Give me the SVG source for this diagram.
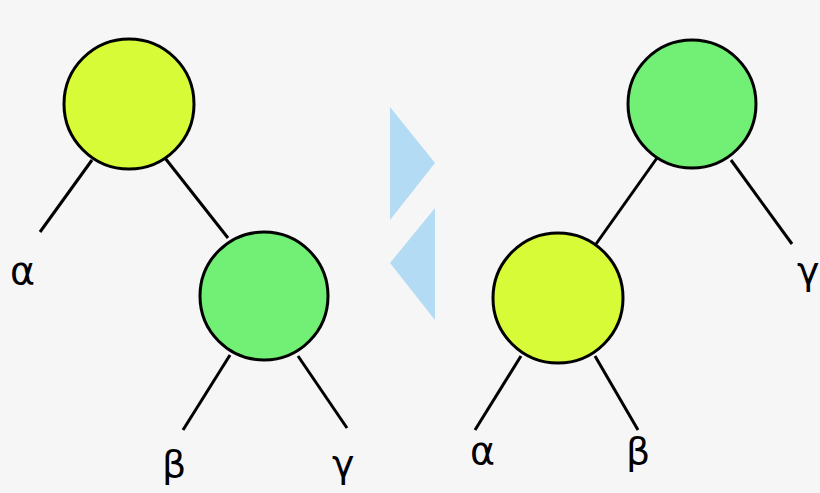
<svg xmlns="http://www.w3.org/2000/svg" width="820" height="493" viewBox="0 0 820 493">
<style>
.n{stroke:#000;stroke-width:3}
.y{fill:#d7fb37}.g{fill:#72ef75}
.e{stroke:#000;stroke-width:3}
text{font-family:"DejaVu Sans",sans-serif;font-size:38px;fill:#000}
.a{fill:#b3dcf4}
</style>
<rect width="820" height="493" fill="#f6f6f6"/>
<g id="connectors">
<line class="e" x1="92" y1="160" x2="40" y2="232"/>
<line class="e" x1="165" y1="158" x2="228" y2="238"/>
<line class="e" x1="230" y1="355" x2="183" y2="430"/>
<line class="e" x1="298" y1="356" x2="347" y2="428"/>
<line class="e" x1="657" y1="158" x2="596" y2="244"/>
<line class="e" x1="731" y1="160" x2="792" y2="244"/>
<line class="e" x1="521" y1="356" x2="475" y2="430"/>
<line class="e" x1="595" y1="356" x2="638" y2="430"/>
</g>
<g id="arrows">
<polygon class="a" points="390,107 435,163 390,220"/>
<polygon class="a" points="435,208 390,263 435,320"/>
</g>
<g id="L1"><circle class="n y" cx="129" cy="104" r="65"/></g>
<g id="L2"><circle class="n g" cx="264" cy="296" r="64"/></g>
<g id="R1"><circle class="n g" cx="692" cy="104" r="64"/></g>
<g id="R2"><circle class="n y" cx="558" cy="298" r="65"/></g>
<g id="labels">
<text x="10" y="284">α</text>
<text x="162" y="477">β</text>
<text x="332" y="477">γ</text>
<text x="470" y="464">α</text>
<text x="626" y="464">β</text>
<text x="797" y="284">γ</text>
</g>
</svg>
